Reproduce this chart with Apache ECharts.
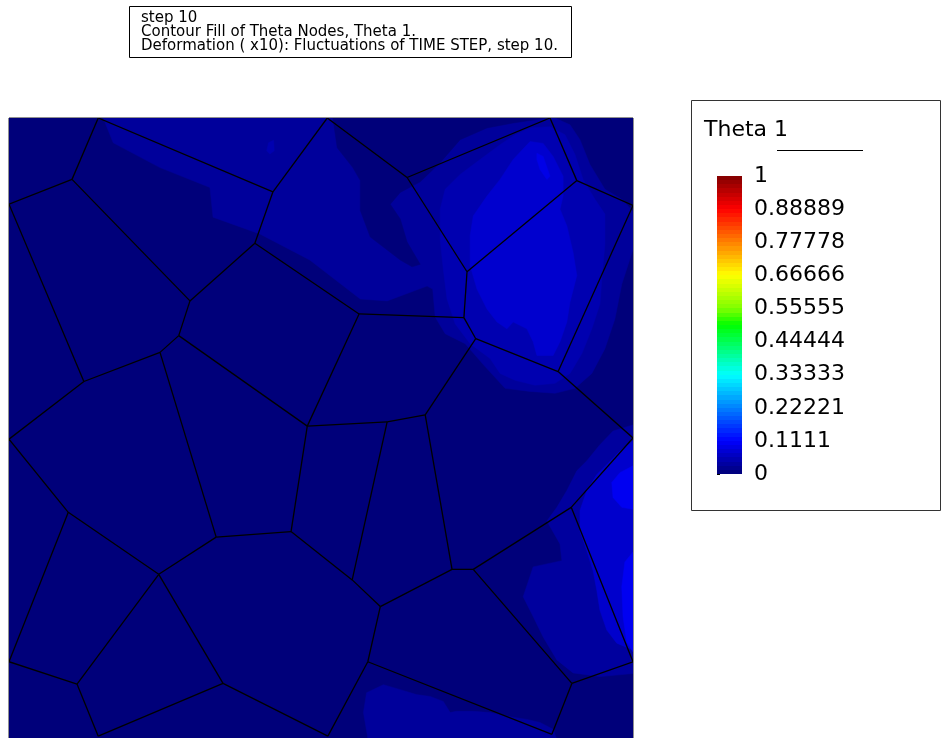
<!DOCTYPE html>
<html>
<head>
<meta charset="utf-8">
<script src="https://cdn.jsdelivr.net/npm/echarts@6/dist/echarts.min.js"></script>
<style>
  html, body { margin: 0; padding: 0; background: #ffffff; }
  #chart { width: 942px; height: 738px; }
</style>
</head>
<body>
<div id="chart"></div>
<script>
// Header lines of the result window
const titleLines = [
  'step 10',
  'Contour Fill of Theta Nodes, Theta 1.',
  'Deformation ( x10): Fluctuations of TIME STEP, step 10.'
];
const legendTitle = 'Theta 1';

// Colour-bar tick labels (bottom to top), scale range and number of bands
const thetaTicks = ['0', '0.1111', '0.22221', '0.33333', '0.44444', '0.55555', '0.66666', '0.77778', '0.88889', '1'];
const thetaRange = [0, 1];
const bandCount = 72;
// Rainbow ramp, evenly spaced from 0 to 1
const thetaRamp = [
  '#000076', '#0000ba', '#0000ff', '#0040ff', '#0080ff', '#00c0ff', '#00ffff',
  '#00ffaa', '#00ff55', '#00ff00', '#80ff00', '#c0ff00', '#ffff00', '#ffc000',
  '#ff8000', '#ff4000', '#ff0000', '#c00000', '#800000'
];

// Grain junctions, in % of the specimen side (x right, y up)
const grainNodes = [
  ['T0', 14.3, 100], ['T1', 51.0, 100], ['T2', 86.7, 100],
  ['A', 10.1, 90.1], ['L1', 0, 86.1], ['B', 29.0, 70.5], ['C', 42.3, 88.1],
  ['D', 39.4, 79.8], ['E', 56.1, 68.4], ['F', 27.2, 64.9], ['G', 24.2, 62.2],
  ['H', 47.8, 50.3], ['I', 12.0, 57.5], ['L2', 0, 48.2], ['J', 33.2, 32.4],
  ['K', 9.5, 36.4], ['M', 24.0, 26.4], ['N', 45.2, 33.3], ['P', 66.7, 52.1],
  ['P2', 60.6, 51.0], ['R', 55.0, 25.5], ['Q', 59.5, 21.2], ['S', 71.0, 27.2],
  ['T', 74.4, 27.2], ['U', 90.1, 37.2], ['V', 90.2, 8.8], ['RE0', 100, 85.9],
  ['RE1', 100, 48.4], ['RE2', 100, 12.3], ['W', 88.0, 59.1], ['AA', 63.8, 90.4],
  ['AB', 73.4, 75.2], ['AC', 91.0, 89.9], ['AD', 72.9, 67.8], ['AE', 74.8, 64.4],
  ['L3', 0, 12.3], ['Y', 10.9, 8.7], ['Z', 34.3, 8.8], ['X', 57.5, 12.3],
  ['B1', 14.3, 0.3], ['B2', 51.1, 0.3], ['B3', 87.0, 0.6]
];

// Grain boundaries as pairs of junctions
const grainEdges = [
  ['T0', 'A'], ['T0', 'C'], ['A', 'L1'], ['A', 'B'], ['C', 'T1'], ['C', 'D'],
  ['D', 'B'], ['D', 'E'], ['B', 'F'], ['F', 'G'], ['F', 'H'], ['G', 'I'],
  ['G', 'J'], ['I', 'L1'], ['I', 'L2'], ['L2', 'K'], ['K', 'M'], ['K', 'L3'],
  ['M', 'J'], ['M', 'Y'], ['M', 'Z'], ['J', 'N'], ['N', 'H'], ['N', 'R'],
  ['R', 'Q'], ['R', 'P2'], ['P2', 'H'], ['P2', 'P'], ['H', 'E'], ['E', 'AD'],
  ['AD', 'AB'], ['AD', 'AE'], ['AB', 'AA'], ['AB', 'AC'], ['AA', 'T1'], ['AA', 'T2'],
  ['AC', 'T2'], ['AC', 'RE0'], ['AE', 'W'], ['AE', 'P'], ['W', 'RE0'], ['W', 'RE1'],
  ['P', 'S'], ['S', 'Q'], ['S', 'T'], ['T', 'U'], ['T', 'V'], ['U', 'RE1'],
  ['U', 'RE2'], ['V', 'RE2'], ['V', 'B3'], ['X', 'Q'], ['X', 'B2'], ['X', 'B3'],
  ['Z', 'B2'], ['Z', 'B1'], ['Y', 'B1'], ['L3', 'Y']
];

// Theta 1 level of each filled contour region (painted in this order)
const regionTheta = [0.003, 0.03, 0.003, 0.047, 0.072, 0.092, 0.047, 0.033, 0.07, 0.1, 0.1, 0.03];

// Outline of each contour region
const regionOutlines = [
  // whole specimen
  [[0, 0], [100, 0], [100, 100], [0, 100]],
  // upper band joined to the halo of the upper-right grain
  [[15.1, 100], [87.5, 100], [89.9, 98.9], [91.5, 96.5], [93.1, 92.5], [95.5, 88.5], [98.2, 86.9],
   [100, 84.9], [100, 78.8], [98.2, 73.2], [97.1, 67.6], [95.5, 62.8], [93.4, 58.8], [90.7, 56.4],
   [87.5, 55.6], [83.5, 55.9], [79.5, 56.4], [76.3, 59.9], [73.1, 63.6], [69.9, 65.2], [68.3, 67.9],
   [67.9, 72.4], [67.0, 72.9], [60.6, 70.5], [56.3, 70.8], [48.2, 77.1], [40.2, 81.3], [32.7, 84.0],
   [32.2, 88.8], [24.2, 92.0], [16.7, 96.0]],
  // low pocket between the band and the halo
  [[51.9, 100], [86.2, 100], [80.8, 99.2], [76.6, 98.4], [72.3, 96.5], [69.1, 92.8], [65.9, 89.7],
   [62.7, 88.0], [61.1, 86.1], [62.7, 83.7], [63.8, 80.0], [65.9, 76.4], [64.6, 76.0], [62.7, 77.1],
   [57.9, 80.8], [56.3, 85.1], [56.3, 89.9], [55.1, 92.0], [52.6, 95.2]],
  // ring around the upper-right maximum
  [[69.9, 88.5], [72.3, 90.9], [75.5, 93.3], [78.7, 95.7], [81.1, 97.3], [83.5, 98.4], [86.7, 98.6],
   [89.1, 97.3], [90.7, 94.1], [92.0, 90.1], [93.9, 86.9], [95.5, 84.5], [95.5, 79.6], [95.0, 74.0],
   [94.7, 70.0], [93.4, 66.0], [91.8, 62.0], [89.9, 58.8], [87.5, 57.2], [84.3, 56.9], [81.1, 57.7],
   [78.7, 58.8], [77.1, 61.2], [73.9, 63.6], [71.5, 66.8], [70.2, 70.8], [69.6, 75.6], [69.1, 80.4],
   [69.1, 85.3]],
  // upper-right core
  [[80.8, 93.3], [83.5, 96.2], [85.6, 95.9], [87.2, 93.8], [88.8, 90.6], [88.8, 87.4], [88.3, 85.3],
   [89.4, 82.6], [90.4, 78.3], [91.0, 74.6], [89.9, 70.3], [89.4, 67.1], [88.3, 63.9], [87.2, 61.7],
   [84.6, 61.7], [84.0, 63.9], [83.0, 66.0], [80.8, 67.1], [79.8, 66.0], [78.2, 67.1], [76.6, 69.2],
   [75.0, 72.4], [73.9, 76.2], [73.9, 81.0], [74.4, 84.2], [76.6, 87.4], [78.7, 90.1]],
  // upper-right peak
  [[84.6, 94.3], [85.6, 93.8], [86.7, 90.6], [86.2, 90.1], [85.1, 91.7], [84.6, 93.3]],
  // small spot in the upper band
  [[41.6, 96.0], [42.4, 96.4], [42.5, 94.7], [41.8, 94.2], [41.3, 94.7]],
  // right-hand halo
  [[100, 50.5], [96.8, 49.5], [94.7, 47.3], [92.6, 44.7], [91.0, 43.1], [89.4, 39.9], [87.8, 37.2],
   [86.2, 35.0], [88.3, 31.3], [88.6, 28.6], [84.0, 27.6], [82.4, 22.8], [84.0, 19.6], [85.6, 16.3],
   [87.8, 12.6], [90.4, 10.5], [94.7, 9.9], [100, 10.4]],
  // right-hand ring
  [[100, 47.9], [97.9, 46.3], [95.8, 44.1], [94.2, 42.5], [92.6, 39.9], [91.5, 36.7], [91.5, 33.4],
   [92.6, 30.2], [93.6, 27.0], [94.2, 23.8], [94.7, 20.6], [95.8, 17.4], [97.4, 15.3], [100, 14.2]],
  // right-hand peaks
  [[100, 43.9], [97.9, 42.8], [96.6, 41.2], [96.8, 38.8], [98.2, 37.2], [100, 36.9]],
  [[100, 30.0], [98.7, 28.4], [98.2, 24.4], [98.4, 19.6], [99.0, 15.5], [100, 13.9]],
  // lower patch
  [[57.3, 7.3], [60.0, 8.6], [62.7, 7.8], [65.3, 7.0], [67.5, 6.7], [69.6, 5.9], [70.7, 4.1],
   [71.7, 4.3], [74.4, 4.3], [77.1, 4.1], [79.8, 3.5], [83.0, 3.0], [85.1, 2.5], [87.2, 1.4],
   [87.7, 0], [57.5, 0], [56.8, 4.1]]
];

const nodeAt = Object.fromEntries(grainNodes.map(n => [n[0], [n[1], n[2]]]));
const edgeData = grainEdges.map(([a, b]) => [nodeAt[a][0], nodeAt[a][1], nodeAt[b][0], nodeAt[b][1]]);
const tickValues = thetaTicks.map(Number);
const FONT = 'DejaVu Sans';

// Banded fill of the colour bar: flat colour inside each band, hard edges between bands
function bandStops() {
  const stops = [];
  for (let k = 0; k < bandCount; k++) {
    const c = echarts.color.lerp((k + 0.5) / bandCount, thetaRamp);
    stops.push({ offset: k / bandCount, color: c }, { offset: (k + 1) / bandCount, color: c });
  }
  return stops;
}

const chart = echarts.init(document.getElementById('chart'), null, { renderer: 'canvas' });

chart.setOption({
  animation: false,
  backgroundColor: '#ffffff',
  textStyle: { fontFamily: FONT },
  title: [{
    text: titleLines.join('\n'),
    left: 129, top: 7,
    padding: [4, 14, 4, 12],
    borderColor: '#000', borderWidth: 1,
    textStyle: { fontFamily: FONT, fontSize: 15, fontWeight: 'normal', color: '#000', lineHeight: 14 }
  }, {
    text: legendTitle,
    left: 704, top: 119, padding: 0,
    textStyle: { fontFamily: FONT, fontSize: 22, fontWeight: 'normal', color: '#000' }
  }],
  grid: [
    { left: 9, top: 118, width: 624, height: 624, show: true, borderColor: '#222', borderWidth: 1, backgroundColor: 'transparent' },
    { left: 717, top: 176, width: 25, height: 298 }
  ],
  xAxis: [
    { gridIndex: 0, type: 'value', min: 0, max: 100, show: false },
    { gridIndex: 1, type: 'value', min: 0, max: 1, show: false }
  ],
  yAxis: [
    { gridIndex: 0, type: 'value', min: 0, max: 100, show: false },
    {
      gridIndex: 1, type: 'value', min: thetaRange[0], max: thetaRange[1], position: 'right',
      axisLine: { show: false }, splitLine: { show: false },
      axisTick: { show: true, length: 3, customValues: tickValues, lineStyle: { color: '#000', width: 1 } },
      axisLabel: {
        margin: 12, fontSize: 22, color: '#000', fontFamily: FONT, customValues: tickValues,
        formatter: v => thetaTicks[tickValues.indexOf(v)]
      }
    }
  ],
  visualMap: {
    type: 'continuous', show: false, seriesIndex: 0, dimension: 0,
    min: thetaRange[0], max: thetaRange[1],
    inRange: { color: thetaRamp }
  },
  graphic: [
    { type: 'rect', shape: { x: 691.5, y: 100.5, width: 249, height: 410 }, style: { fill: 'none', stroke: '#333', lineWidth: 1 }, silent: true },
    { type: 'line', shape: { x1: 777, y1: 150.5, x2: 863, y2: 150.5 }, style: { stroke: '#000', lineWidth: 1 }, silent: true }
  ],
  series: [{
    // contour fill
    type: 'custom', xAxisIndex: 0, yAxisIndex: 0, clip: true, silent: true,
    data: regionTheta.map((t, i) => [t, i]),
    encode: { x: -1, y: -1 },
    renderItem: (params, api) => {
      const c = api.visual('color');
      return {
        type: 'polygon',
        shape: { points: regionOutlines[params.dataIndex].map(p => api.coord(p)) },
        style: { fill: c, stroke: c, lineWidth: 0.5 }
      };
    }
  }, {
    // grain boundaries
    type: 'custom', xAxisIndex: 0, yAxisIndex: 0, clip: true, silent: true,
    data: edgeData,
    encode: { x: [0, 2], y: [1, 3] },
    renderItem: (params, api) => {
      const p1 = api.coord([api.value(0), api.value(1)]);
      const p2 = api.coord([api.value(2), api.value(3)]);
      return {
        type: 'line',
        shape: { x1: p1[0], y1: p1[1], x2: p2[0], y2: p2[1] },
        style: { stroke: '#000', lineWidth: 1.3 }
      };
    }
  }, {
    // colour bar spanning the theta range
    type: 'custom', xAxisIndex: 1, yAxisIndex: 1, silent: true,
    data: [[0, thetaRange[0], 1, thetaRange[1]]],
    encode: { x: [0, 2], y: [1, 3] },
    renderItem: (params, api) => {
      const lo = api.coord([api.value(0), api.value(1)]);
      const hi = api.coord([api.value(2), api.value(3)]);
      return {
        type: 'rect',
        shape: { x: lo[0], y: hi[1], width: hi[0] - lo[0], height: lo[1] - hi[1] },
        style: { fill: new echarts.graphic.LinearGradient(0, 1, 0, 0, bandStops()) }
      };
    }
  }]
});
</script>
</body>
</html>
